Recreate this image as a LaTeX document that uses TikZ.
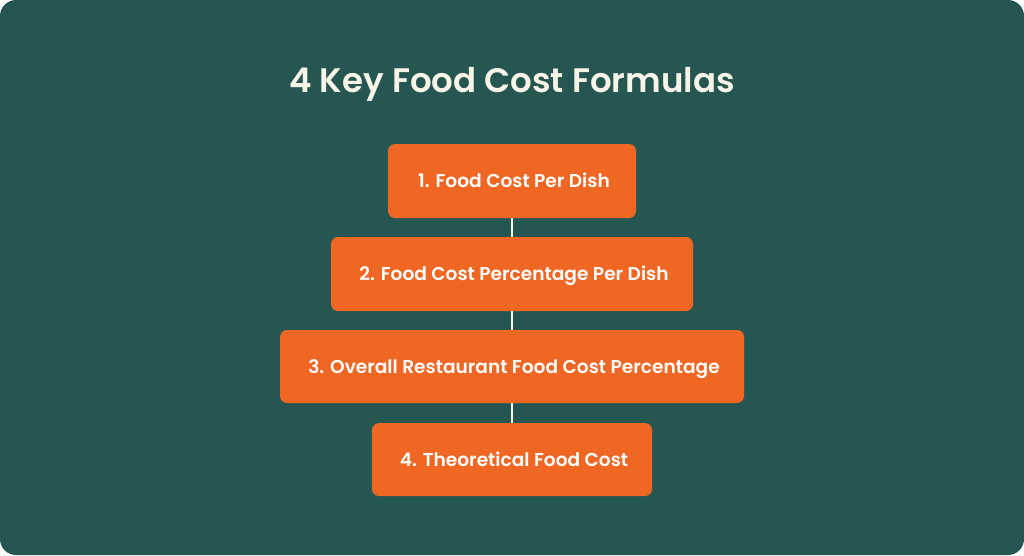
\documentclass[tikz,border=0pt]{standalone}
\usepackage{fontspec}
\setmainfont{Poppins}[BoldFont={Poppins SemiBold}]
\definecolor{bgteal}{HTML}{265651}
\definecolor{boxorange}{HTML}{F06724}
\definecolor{cream}{HTML}{F8F4E8}
\begin{document}
\begin{tikzpicture}[x=1pt,y=-1pt,
  stepbox/.style={rectangle, rounded corners=7pt, fill=boxorange, draw=none,
    text=white, font=\fontsize{18.6}{20}\selectfont\bfseries, inner sep=0pt,
    text height=13pt, text depth=0pt, anchor=center},
  link/.style={draw=cream, line width=1.8pt}]
\useasboundingbox (0,0) rectangle (1024,555);
\fill[white] (0,0) rectangle (1024,555);
\fill[bgteal, rounded corners=16pt] (0,0) rectangle (1024,555);
\node[text=cream, font=\fontsize{34}{38}\selectfont\bfseries, anchor=base] (title) at (512,92) {4 Key Food Cost Formulas};
\node[stepbox, minimum width=248pt, minimum height=74pt] (b1) at (512,181) {\hspace{4pt}1. Food Cost Per Dish};
\node[stepbox, minimum width=362pt, minimum height=74pt] (b2) at (512,274) {\hspace{4pt}2. Food Cost Percentage Per Dish};
\node[stepbox, minimum width=464pt, minimum height=73pt] (b3) at (512,366.5) {\hspace{4pt}3. Overall Restaurant Food Cost Percentage};
\node[stepbox, minimum width=280pt, minimum height=73pt] (b4) at (512,459.5) {\hspace{4pt}4. Theoretical Food Cost};
\draw[link] (b1.south) -- (b2.north);
\draw[link] (b2.south) -- (b3.north);
\draw[link] (b3.south) -- (b4.north);
\end{tikzpicture}
\end{document}
